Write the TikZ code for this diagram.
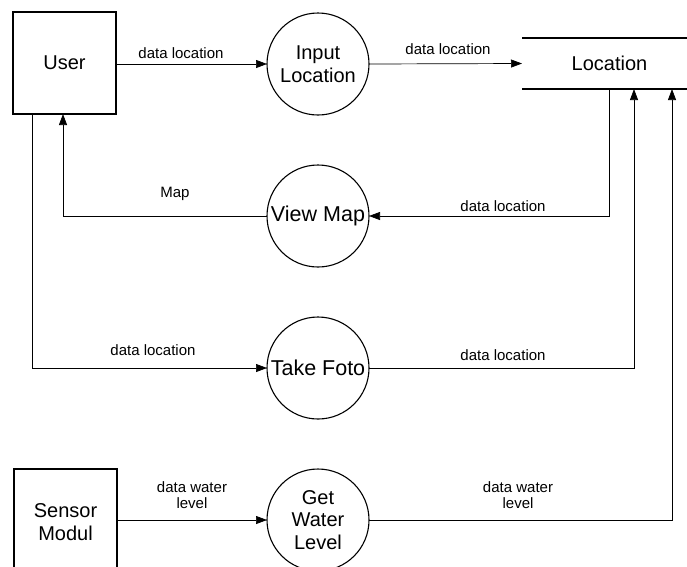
\documentclass[tikz,border=0pt]{standalone}
\usepackage{fontspec}
\setmainfont{Liberation Sans}
\usetikzlibrary{arrows.meta}
\begin{document}
\begin{tikzpicture}[x=1pt,y=-1pt,
  every node/.style={inner sep=0pt, outer sep=0pt},
  entity/.style={draw, line width=1.3pt, rectangle, minimum width=103pt, minimum height=102pt,
    align=center, font=\fontsize{20}{23}\selectfont},
  process/.style={draw, line width=1.1pt, circle, minimum size=102pt,
    align=center, font=\fontsize{20}{22.5}\selectfont},
  wideprocess/.style={process, font=\fontsize{21.5}{23}\selectfont},
  store/.style={rectangle, minimum width=175pt, minimum height=51pt,
    font=\fontsize{20}{23}\selectfont},
  flow/.style={line width=0.7pt, -{Triangle[length=11pt,width=8pt]}},
  flowlabel/.style={align=center, font=\fontsize{15}{16}\selectfont}]
  \useasboundingbox (0,0) rectangle (687,566);
  \clip (0,0) rectangle (687,566);

  % external entities
  \node[entity] (user) at (64.5,63) {User};
  \node[entity, minimum height=106pt] (sensor) at (65.5,522) {Sensor\\Modul};

  % processes
  \node[process] (input) at (318,64) {Input\\Location};
  \node[wideprocess] (viewmap) at (318,216) {View Map};
  \node[wideprocess] (foto) at (318,368) {Take Foto};
  \node[process] (water) at (318,520) {Get\\Water\\Level};

  % data store
  \node[store] (loc) at (609.5,63.5) {Location};
  \draw[line width=1.3pt] (loc.north west) -- (loc.north east);
  \draw[line width=1.3pt] (loc.south west) -- (loc.south east);

  % bend points of the flows
  \coordinate (b1) at (609,216);
  \coordinate (b2) at (63,216);
  \coordinate (b3) at (32,368);
  \coordinate (b4) at (634,368);
  \coordinate (b5) at (672,520);

  % data flows
  \draw[flow] (user.east |- input.west) -- (input.west);
  \draw[flow] (input.east) -- (loc.west);
  \draw[flow] (loc.south -| b1) -- (b1) -- (viewmap.east);
  \draw[flow] (viewmap.west) -- (b2) -- (user.south -| b2);
  \draw[flow] (user.south -| b3) -- (b3) -- (foto.west);
  \draw[flow] (foto.east) -- (b4) -- (loc.south -| b4);
  \draw[flow] (sensor.east |- water.west) -- (water.west);
  \draw[flow] (water.east) -- (b5) -- (loc.south -| b5);

  % flow labels
  \node[flowlabel] (l1) at (181,53) {data location};
  \node[flowlabel] (l2) at (448,49) {data location};
  \node[flowlabel] (l3) at (503,206) {data location};
  \node[flowlabel] (l4) at (175,194) {Map};
  \node[flowlabel] (l5) at (153,350) {data location};
  \node[flowlabel] (l6) at (503,355) {data location};
  \node[flowlabel] (l7) at (192,495) {data water\\level};
  \node[flowlabel] (l8) at (518,495) {data water\\level};
\end{tikzpicture}
\end{document}
